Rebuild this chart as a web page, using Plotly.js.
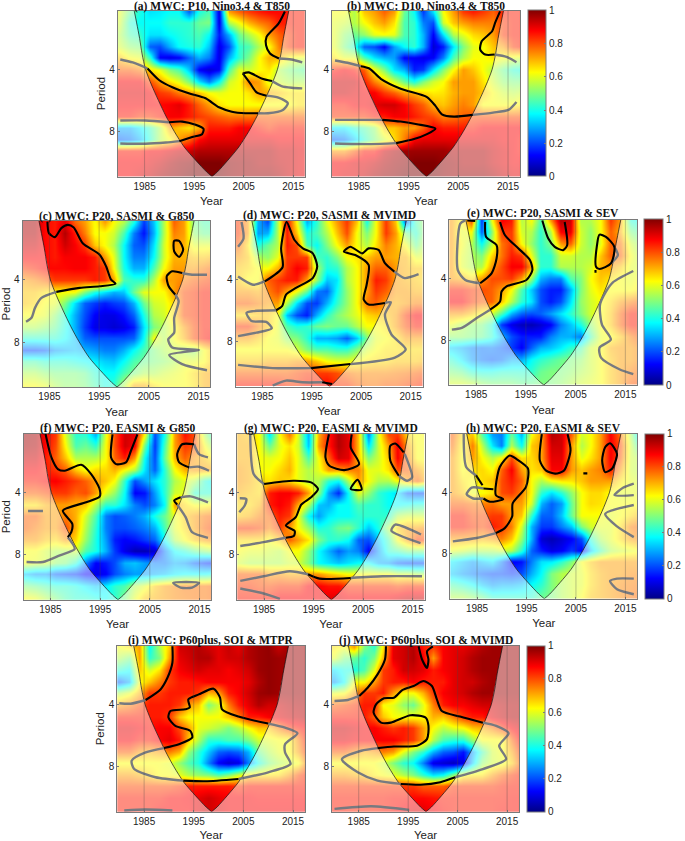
<!DOCTYPE html>
<html><head><meta charset="utf-8">
<script src="https://cdn.plot.ly/plotly-3.0.1.min.js"></script>
<style>html,body{margin:0;padding:0;background:#fff}#c{width:685px;height:841px}</style>
</head><body><div id="c"></div>
<script>
// ---------- shared data ----------
const years=[1980,1982,1984,1986,1988,1990,1992,1994,1996,1998,2000,2002,2004,2006,2008,2010,2012,2014,2016,2018];
const periods=[0.25,1,1.75,2.5,3.25,4,4.75,5.5,6.25,7,7.75,8.5,9.25,10,10.75];
const yearTicks=[1985,1995,2005,2015];
const periodTicks=[4,8];
const cbarTicks=[0,0.2,0.4,0.6,0.8,1];
const cbarLabels=['0','0.2','0.4','0.6','0.8','1'];
const coneLeft=[[1982.9,0.2],[1983.4,1],[1984,2],[1984.5,3],[1985.2,4],[1986.4,5],[1987.8,6],[1989.3,7],[1991,8],[1993,9],[1995.3,9.85],[1997.5,10.6],[1998.6,10.9]];
const coneRight=[[1998.6,10.9],[1999.7,10.6],[2001.8,9.85],[2004,9],[2006,8],[2007.7,7],[2009.2,6],[2010.6,5],[2011.8,4],[2012.5,3],[2013,2],[2013.6,1],[2014.1,0.2]];

// ---------- coherence (percent) ----------
const zA=[
[60,48,40,35,36,38,38,22,40,45,10,72,78,82,85,87,87,85,85,85],
[58,42,38,38,38,42,42,42,48,50,10,55,62,70,75,78,85,85,85,85],
[55,45,42,35,35,38,40,42,45,38,15,30,48,55,62,72,78,82,85,85],
[58,52,50,22,20,30,38,40,42,32,10,20,42,45,55,62,75,82,85,85],
[68,62,60,42,12,10,12,22,30,25,10,30,42,50,62,70,70,62,60,60],
[78,78,75,65,60,50,45,32,12,8,12,45,60,58,62,65,55,50,48,45],
[88,88,88,80,72,65,60,50,35,25,38,58,62,75,72,60,58,55,55,55],
[90,90,90,88,82,80,75,72,68,62,60,62,62,65,72,70,68,65,65,65],
[88,88,88,88,87,88,90,85,78,72,65,62,62,62,62,62,62,62,65,65],
[85,85,82,82,85,88,88,85,82,80,78,76,76,76,78,78,78,78,78,78],
[30,30,36,44,55,72,68,65,70,85,85,85,88,88,85,82,85,85,85,85],
[22,24,30,42,55,62,72,78,87,90,90,90,90,90,90,90,88,88,88,88],
[85,85,85,88,88,90,92,92,95,95,95,95,95,95,95,95,92,92,90,90],
[88,88,88,90,92,95,97,98,100,100,100,98,97,97,95,95,93,92,90,88],
[88,88,90,92,95,97,98,100,100,100,100,98,97,97,97,97,95,92,90,90]];
const zB=[
[62,62,55,68,72,78,72,48,38,18,35,62,72,82,85,82,78,85,85,85],
[60,58,55,62,68,72,65,45,42,25,20,58,68,72,75,75,75,82,85,85],
[60,52,48,52,60,62,60,45,42,30,12,35,55,60,66,68,72,82,85,85],
[60,50,42,22,20,12,28,38,42,30,8,15,35,50,60,62,68,72,82,85],
[65,60,60,45,35,30,28,12,12,10,12,25,45,55,62,62,65,62,60,58],
[85,88,85,78,62,50,35,30,15,18,35,50,62,72,68,62,55,48,42,40],
[92,92,92,85,75,68,58,48,40,50,58,62,72,72,72,65,58,52,50,50],
[92,92,90,88,88,82,78,72,70,66,64,65,70,72,72,68,62,58,56,58],
[85,85,88,88,90,92,92,88,82,78,70,68,72,75,72,62,62,62,62,65],
[82,82,82,82,85,85,88,88,85,82,80,75,76,78,80,80,80,80,80,80],
[36,36,42,46,52,68,68,72,72,78,88,85,85,85,85,88,88,88,88,88],
[22,24,32,42,50,58,66,75,88,90,90,90,90,90,90,90,90,88,88,85],
[72,72,78,85,85,92,95,97,97,97,97,97,95,95,95,95,92,90,88,85],
[88,88,90,90,92,95,97,98,100,100,100,98,97,95,95,95,92,90,88,88],
[88,90,90,92,95,97,98,100,100,100,100,98,97,97,97,97,95,92,90,90]];
const zC=[
[96,96,87,85,90,78,72,62,72,62,55,40,18,32,55,78,72,50,45,45],
[95,95,87,85,95,85,75,62,62,58,45,25,14,30,55,75,72,52,48,48],
[92,92,87,85,92,88,82,68,62,55,38,22,20,35,58,72,70,60,60,60],
[88,88,87,85,88,88,88,85,72,60,38,25,25,38,58,70,70,68,68,70],
[82,84,87,87,87,88,88,85,82,62,40,30,30,45,62,72,72,72,75,78],
[72,74,77,82,82,82,82,85,82,72,45,42,42,55,72,72,75,78,80,82],
[68,68,65,62,62,62,50,40,35,30,32,48,60,62,62,72,80,82,85,85],
[68,66,62,60,50,35,22,18,15,18,20,30,48,58,60,66,80,82,85,85],
[62,62,60,52,42,30,20,12,10,10,14,22,40,55,58,66,80,82,85,85],
[55,55,52,48,40,30,18,10,10,8,10,15,35,50,55,62,72,80,85,85],
[42,42,42,42,38,32,22,20,20,20,20,22,38,62,55,62,70,80,85,88],
[20,20,22,28,30,32,30,28,25,25,30,38,45,50,55,58,55,52,62,70],
[45,45,42,42,42,40,38,36,33,32,38,45,48,50,52,55,60,60,62,70],
[55,55,52,50,50,50,48,42,38,38,45,50,55,55,58,60,62,66,70,72],
[62,62,60,55,52,52,50,45,40,42,55,70,70,65,62,62,62,65,70,72]];
const zD=[
[82,72,30,20,55,88,62,30,42,60,72,82,68,40,62,82,68,22,45,55],
[82,72,28,30,55,85,68,40,45,55,68,80,62,50,62,82,72,50,42,55],
[78,65,40,48,55,85,80,45,38,50,62,72,62,55,65,75,70,62,48,58],
[72,68,55,52,60,82,82,82,45,42,50,62,65,68,72,72,70,70,60,60],
[68,66,62,62,70,82,88,85,55,40,42,55,62,72,78,78,72,70,68,68],
[68,62,62,78,82,85,85,72,52,32,35,55,62,72,85,82,72,70,68,66],
[72,72,70,75,80,72,62,48,25,22,38,52,62,72,82,78,72,72,70,70],
[78,78,75,72,72,55,35,20,18,30,42,52,62,76,78,72,70,72,75,75],
[66,66,68,68,62,32,20,15,30,42,50,55,60,66,68,68,72,82,88,88],
[82,82,75,68,60,45,40,42,48,50,48,48,55,62,62,65,72,80,85,85],
[72,72,68,62,60,52,50,42,30,30,28,22,32,50,60,62,65,72,72,72],
[62,62,62,62,62,62,58,50,45,45,42,42,50,58,62,65,65,66,66,66],
[68,68,68,70,70,70,72,72,68,62,60,60,62,65,66,66,68,68,68,70],
[78,78,78,78,78,78,80,82,82,82,80,76,74,74,74,74,75,76,78,80],
[85,85,85,85,85,82,82,85,85,87,82,82,78,76,76,78,78,80,82,85]];
const zE=[
[72,62,80,18,60,88,85,55,62,45,72,95,92,55,55,62,82,72,42,38],
[72,60,62,22,50,82,82,58,55,42,55,88,90,58,52,62,78,70,50,45],
[72,62,55,38,55,76,82,62,52,42,50,72,78,58,52,60,78,76,58,52],
[72,60,55,50,66,76,85,82,60,42,42,58,58,55,55,68,78,78,62,55],
[72,60,55,55,72,80,88,88,72,42,42,55,55,55,58,70,72,68,60,58],
[72,70,66,72,80,80,82,72,52,30,25,25,45,50,62,68,65,62,60,62],
[85,85,82,80,78,72,62,45,32,20,15,15,30,50,60,65,62,62,62,65],
[88,88,82,78,78,68,55,42,35,20,15,20,35,52,58,62,66,72,75,78],
[72,72,68,62,58,45,30,22,20,22,28,35,42,50,58,62,68,78,85,85],
[60,55,52,50,42,18,10,6,5,8,12,25,32,40,52,62,68,78,85,85],
[52,52,50,48,42,30,20,15,15,15,25,30,30,25,45,60,62,68,75,80],
[33,30,26,24,25,22,18,12,22,30,32,36,42,45,58,62,70,72,72,75],
[42,36,28,24,22,24,30,30,38,42,45,48,50,52,58,62,68,72,72,75],
[50,48,42,40,40,42,42,42,42,48,50,50,52,55,58,62,68,72,75,78],
[58,58,56,52,50,50,50,48,48,50,50,52,55,58,60,62,68,72,78,80]];
const zF=[
[97,96,87,82,58,42,42,30,60,80,92,90,62,20,40,72,86,80,55,38],
[96,95,87,80,62,45,48,42,62,80,92,88,48,18,45,72,82,80,62,50],
[92,92,85,78,68,55,55,55,62,78,85,72,38,20,48,70,78,72,68,62],
[88,88,85,82,78,68,62,66,66,70,62,55,35,22,42,62,70,72,72,72],
[85,85,87,88,85,82,78,72,68,62,42,20,28,35,42,55,60,55,42,35],
[78,78,80,82,82,78,80,72,60,52,38,12,14,28,42,58,60,42,42,42],
[65,65,70,72,72,70,68,55,42,42,35,25,20,25,38,72,66,62,62,65],
[78,78,72,72,75,70,58,45,25,20,22,25,30,40,48,60,68,72,76,78],
[78,75,72,72,80,70,55,42,25,20,20,22,25,30,45,60,66,72,78,82],
[72,72,68,66,72,66,52,40,28,15,12,14,18,22,38,55,62,68,72,75],
[62,62,58,55,55,58,45,40,30,18,10,5,5,8,25,38,42,48,52,55],
[62,60,58,52,50,42,25,12,15,20,30,32,28,25,25,30,28,22,18,15],
[32,28,28,22,20,18,12,10,12,20,25,28,28,30,32,36,38,38,38,40],
[50,48,45,42,42,40,36,32,36,42,45,55,60,68,72,74,76,76,76,78],
[62,60,55,50,45,42,42,40,38,42,50,60,68,70,72,74,75,76,76,78]];
const zG=[
[70,68,62,35,62,76,58,30,70,85,95,90,68,25,60,80,82,66,62,62],
[70,70,62,48,60,65,58,32,72,85,95,90,68,35,58,72,88,72,62,62],
[70,70,62,60,62,68,60,45,62,78,92,90,68,50,58,68,88,75,62,62],
[72,70,62,62,66,70,60,55,60,72,72,75,75,60,60,65,80,78,72,66],
[72,70,66,65,68,66,60,55,55,42,38,55,72,62,55,55,62,72,78,68],
[70,68,66,85,88,88,85,72,52,28,16,38,60,52,42,38,35,22,20,20],
[66,66,70,85,88,85,70,55,32,30,38,38,45,42,42,38,38,40,42,42],
[68,70,75,78,85,82,60,38,28,36,38,38,42,42,42,42,55,58,58,58],
[82,82,80,75,82,72,62,52,40,42,48,50,42,32,40,55,68,72,72,75],
[66,66,66,62,68,78,72,65,50,42,42,38,22,20,32,45,62,72,82,80],
[62,60,60,58,56,62,62,52,38,30,22,28,25,12,28,42,45,50,50,50],
[58,55,55,55,55,58,58,50,38,35,32,35,38,38,30,28,22,20,20,20],
[78,78,78,72,72,70,70,72,72,68,65,62,62,62,62,62,58,58,55,55],
[82,82,80,80,82,82,82,88,88,86,86,82,82,82,82,82,80,82,82,82],
[85,85,85,85,88,88,88,88,88,90,90,88,88,88,88,88,90,92,92,92]];
const zH=[
[78,65,68,45,28,25,48,30,62,72,95,92,78,58,62,72,88,76,55,30],
[76,62,75,55,35,25,55,38,68,72,92,92,72,55,62,72,88,80,58,42],
[72,62,72,62,55,62,80,65,66,72,90,90,72,60,65,72,88,78,58,55],
[72,62,66,66,62,78,88,72,65,68,88,88,72,68,72,75,85,72,58,55],
[72,65,62,66,68,80,85,78,62,55,62,65,65,68,72,72,72,65,60,58],
[72,68,60,62,65,80,82,75,62,42,35,42,52,62,66,66,62,60,60,60],
[78,78,76,75,76,72,72,72,58,30,22,28,48,62,66,65,62,62,62,62],
[85,85,80,80,82,82,72,68,42,22,22,32,48,62,62,62,60,62,66,70],
[85,85,82,80,85,82,75,58,30,18,18,25,32,50,58,60,60,66,75,78],
[72,72,72,70,72,75,68,52,30,8,5,8,12,20,42,55,60,66,72,75],
[60,58,55,55,55,58,55,42,22,15,10,12,18,12,32,45,55,58,60,62],
[36,32,28,32,35,25,12,14,25,35,36,42,50,62,68,72,72,72,72,72],
[32,28,25,22,20,20,18,20,30,38,50,55,58,60,66,70,72,72,74,74],
[45,42,38,32,28,30,30,32,38,42,50,55,58,60,66,70,72,74,75,76],
[55,55,52,48,42,42,42,42,42,48,50,55,58,62,68,70,72,74,76,78]];
const zI=[
[62,65,72,38,55,68,92,93,95,92,90,93,90,95,97,98,93,97,97,97],
[55,50,72,42,50,72,90,92,95,95,90,92,92,95,97,98,97,97,97,97],
[42,38,68,58,65,82,88,90,92,90,90,88,90,92,97,98,97,97,97,97],
[22,30,62,68,75,82,85,85,86,88,88,88,88,90,95,98,97,97,97,97],
[55,60,70,82,82,85,85,85,82,70,72,85,88,92,97,98,97,97,97,97],
[72,75,80,85,85,85,82,72,68,50,58,75,85,90,95,92,92,94,95,95],
[85,85,85,85,85,82,68,62,62,62,62,68,75,85,85,88,90,92,93,95],
[90,90,88,86,88,88,80,72,60,58,55,50,55,62,68,68,75,82,85,88],
[88,88,85,85,88,90,85,68,55,42,42,45,45,50,58,60,62,62,75,88],
[78,78,72,70,72,75,70,52,42,32,22,20,22,30,48,55,60,62,72,85],
[62,62,62,62,62,60,52,45,40,25,12,8,10,25,40,50,55,58,62,80],
[72,72,70,66,62,62,60,55,52,50,45,50,58,65,65,65,66,72,80,85],
[80,80,80,80,80,80,82,85,85,85,85,85,82,85,85,85,85,85,85,85],
[85,85,85,85,85,87,87,88,90,92,90,88,88,88,87,87,87,87,87,87],
[85,85,85,85,87,87,87,87,90,92,90,88,88,88,88,88,88,88,88,88]];
const zJ=[
[65,62,72,50,42,65,90,92,95,85,82,88,90,90,92,95,97,97,97,97],
[60,50,48,42,50,70,90,92,95,88,72,88,90,92,95,97,97,97,97,97],
[35,40,40,45,60,82,85,92,92,90,85,88,90,92,95,97,97,97,97,97],
[28,38,62,62,72,82,85,85,88,85,85,85,90,92,92,95,97,97,97,97],
[60,62,72,82,82,85,72,62,62,70,82,88,90,92,95,97,97,97,97,97],
[78,80,82,85,85,62,60,52,48,60,75,85,88,88,90,92,92,94,95,95],
[85,85,85,85,78,68,62,62,62,62,70,68,75,82,85,85,90,93,95,95],
[92,92,90,88,88,85,82,85,82,72,62,56,60,62,68,70,75,82,88,92],
[90,90,88,88,88,88,88,85,82,72,55,45,42,42,52,62,62,62,78,90],
[78,78,74,70,72,75,72,60,50,42,30,22,20,14,28,45,58,62,72,85],
[62,62,62,62,62,58,50,42,38,25,10,8,6,10,32,52,58,60,68,82],
[72,72,70,68,64,62,60,55,50,42,35,38,50,62,64,65,72,78,82,85],
[82,82,82,82,82,82,82,82,82,78,78,78,82,82,82,82,82,84,85,85],
[85,85,85,85,85,85,86,86,87,87,86,85,85,85,85,85,85,85,86,86],
[85,85,84,84,84,85,86,88,90,90,88,86,85,85,85,85,85,86,86,86]];

// ---------- significance contours (year, period) ----------
const blackA=[[[1985.6,3.94],[1987.9,4.68],[1990.6,5.15],[1993.9,5.54],[1997.3,5.86],[2000,6.44],[2002.6,6.72],[2005.3,6.82],[2007.9,6.82]],
[[1989.9,7.4],[1992.6,7.36],[1995.3,7.57],[1996.9,7.83],[1996.6,8.17],[1994.6,8.36],[1992,8.62]],
[[2004.8,4.26],[2006,4.19],[2008.6,4.58],[2010.7,4.75]],[[2009.6,5.69],[2007.6,5.48],[2006.3,4.9],[2004.8,4.26]],
[[2013.3,0.26],[2012,1.05],[2009.6,1.9],[2009.5,2.44],[2010.3,2.97],[2012.1,3.29]]];
const grayA=[[[1980.1,3.36],[1982.6,3.55],[1985.6,3.94]],[[2012.1,3.29],[2014.6,3.36],[2016.8,3.55]],
[[2010.7,4.75],[2012.6,5.07],[2014.7,5.18],[2016.8,5.22]],
[[2009.6,5.69],[2012,5.82],[2013.9,6.18],[2012.9,6.61],[2009.9,6.82],[2007.9,6.82]],
[[1980.1,7.29],[1985.2,7.29],[1989.9,7.4]],[[1980.1,8.77],[1985.2,8.79],[1989.3,8.71],[1992,8.62]]];
const blackB=[[[1985.4,3.79],[1987.1,3.94],[1989.4,4.6],[1993.4,5.24],[1998.7,5.78],[2000.4,6.35],[2001.7,6.89],[2004.1,7.04],[2007.9,6.93]],
[[1989.7,7.25],[1993.4,7.36],[1996.7,7.53],[2000.4,7.81],[1998.7,8.17],[1996.1,8.49],[1992.5,8.75]],
[[2013.4,0.26],[2012.4,1],[2011.8,1.54],[2009.7,2.18],[2009.4,2.72],[2010.4,3.04],[2012.3,3.04]]];
const grayB=[[[1980.2,3.42],[1982.7,3.57],[1985.4,3.79]],[[2012.3,3.04],[2014.7,3.19],[2016.7,3.53]],
[[2007.9,6.93],[2012,6.78],[2015.1,6.61],[2016.7,6.1]],[[1980.2,7.25],[1985.4,7.25],[1989.7,7.25]],
[[1980.2,8.77],[1987.4,8.81],[1992.5,8.75]]];
const blackC=[[[1984.6,0.24],[1984.9,0.98],[1986.1,1.24],[1987.4,0.66],[1988.7,0.45],[1989.9,0.62],[1991.7,1.63],[1995.1,2.37],[1996.4,3.12],[1997.4,3.98],[1998.3,4.24],[1995.1,4.41],[1991.1,4.51],[1986.4,4.77]],
[[2010.1,1.48],[2011.1,1.48],[2011.9,2.05],[2011.1,2.52],[2010.1,2.16],[2010.1,1.48]],
[[2011.7,3.55],[2009.7,3.44],[2008.6,3.76],[2009,4.41],[2010.3,4.94]]];
const grayC=[[[1980.3,6.7],[1981.4,6.44],[1982.1,5.8],[1983.4,5.16],[1986.4,4.77]],[[2011.7,3.55],[2013.7,3.66],[2016.7,3.66]],
[[2010.3,4.94],[2011,5.37],[2010.1,6.44],[2010.1,7.4],[2008.9,7.83],[2009.7,8.36],[2015.1,8.51],[2009.1,8.83],[2011.7,9.43],[2016.7,9.82]]];
const blackD=[[[1985.5,4.11],[1989.1,3.19],[1988.8,1.97],[1989.9,0.26],[1991.5,1.43],[1993.2,1.97],[1995.2,2.29],[1996.1,3.14],[1995.2,3.89],[1991.8,4.53],[1989.8,4.96],[1989,5.71],[1987.8,5.97]],
[[2011.7,3.47],[2009.8,2.93],[2008.5,2.07],[2006.5,1.97],[2005.2,2.29],[2002.8,1.86],[2001.5,2.18],[2003.8,2.4],[2006.5,3.04],[2006.1,4.32],[2005.5,5.28],[2006.5,5.6],[2009.8,5.5]],
[[1994.8,9.71],[2002.8,9.45]],[[1997.1,10.63],[1999.1,10.74]]];
const grayD=[[[1980.1,1.86],[1981.2,1.33],[1980.8,0.26]],[[1980.1,3.79],[1983.1,4.32],[1985.5,4.11]],[[2011.7,3.47],[2013.8,3.89],[2016.6,3.64]],
[[1987.8,5.97],[1983.1,6.03],[1981.8,6.14],[1982.8,6.67],[1985.8,6.72],[1986.9,7.14],[1983.8,7.42],[1980.1,7.64]],
[[2009.8,5.5],[2011,5.45],[2009.8,6.25],[2011.1,7.53],[2014,8.49],[2011.8,9.03],[2002.8,9.45]],
[[1980.1,9.5],[1987.1,9.71],[1994.8,9.71]],[[1987.1,10.84],[1989.8,10.52],[1993.1,10.63],[1997.1,10.63]]];
const blackE=[[[1983.2,0.26],[1984.8,0.3]],[[1986.8,0.36],[1987,1.33],[1989.1,1.86],[1989.1,2.72],[1988.1,3.68],[1985.8,4.32]],
[[1989.8,0.36],[1990.8,1.22],[1993.5,2.07],[1995.8,2.82],[1996.3,3.47],[1995.1,4.11],[1991.1,4.53],[1990.1,4.86],[1989.8,5.5],[1987.8,6.03]],
[[1998.3,0.26],[1999.5,1.43],[2000.8,1.97],[2002.5,2.18],[2003.3,1.86],[2002.8,0.36]],
[[2009.8,1.18],[2011.1,1.33],[2012.8,1.97],[2012.1,3.04],[2009.8,3.4],[2009.1,3.25],[2009.3,1.86],[2009.8,1.18]],
[[2009,3.47],[2009,3.64]]];
const grayE=[[[1982.8,0.26],[1981.8,0.47],[1981.3,3.47],[1982.8,4.11],[1985.8,4.32]],[[1980.1,7.32],[1982.1,7.21],[1985.1,6.57],[1987.8,6.03]],
[[2012.8,1.97],[2013.5,2.5],[2012.1,3.04]],
[[2016.6,3.53],[2012.5,4.26],[2011.1,4.86],[2009.9,5.71],[2010.3,7],[2012.1,7.96],[2009.8,8.49],[2010.1,9.13],[2013.8,9.88],[2016.6,10.2]]];
const blackF=[[[1984,0.19],[1985.2,1.73],[1986.5,2.48],[1987.9,2.59],[1991.2,2.2],[1993.2,2.8],[1994.9,3.76],[1994.9,4.26],[1992.2,4.62],[1987.5,5.16],[1989.4,6.01],[1989.2,6.55],[1988.5,6.87]],
[[1997.5,0.24],[1997.2,1.73],[1998.2,2.16],[2000.2,2.05],[2001.2,1.3],[2002.5,0.24]],
[[2013.9,0.88],[2011.5,0.88],[2010.5,1.52],[2010.9,2.05],[2012.9,2.37]],
[[2011.2,4.3],[2009.9,4.51],[2010.5,4.77]]];
const grayF=[[[1980.5,5.18],[1983.5,5.18]],[[1980.2,8.47],[1983.5,8.47],[1986.9,8.04],[1989.9,7.62],[1988.5,6.87]],
[[2013.9,0.88],[2014.9,1.52],[2016.7,1.73]],[[2012.9,2.37],[2014.9,2.33],[2016.9,2.59]],[[2011.2,4.3],[2013.2,4.24],[2016.7,4.62]],
[[2010.5,4.77],[2012.2,5.58],[2013.5,6.55],[2016.7,6.91]],[[2009.7,9.82],[2014.9,9.82],[2013.5,10.12],[2011.2,10.12],[2009.7,9.82]]];
const blackG=[[[1985,3.44],[1990.9,3.23],[1994.5,3.34],[1995.9,3.76],[1994.5,4.3],[1992.5,4.77],[1991.4,5.58],[1989.4,6.12],[1991.2,6.48],[1991,6.8],[1989.4,6.91]],
[[1998.1,0.24],[1997.4,1.73],[1998.2,2.27],[2001.2,2.55],[2004.2,2.16],[2002.5,1.09],[2002.7,0.24]],
[[2013.2,1.41],[2011.5,0.83],[2010.5,0.98],[2010.5,1.95],[2012.2,2.91]],
[[2003.9,3.17],[2002.5,3.76],[2004.7,3.81],[2003.9,3.17]],[[1993.9,9.26],[1996.2,9.54],[2002.5,9.5]]];
const grayG=[[[1982.2,0.24],[1982.9,2.8],[1985,3.44]],[[1980,5.26],[1981.1,4.83],[1981.4,4.41],[1980.1,4.36]],[[1980.2,7.44],[1984.9,7.19],[1989.4,6.91]],
[[1980.2,9.69],[1984.9,9.39],[1990.2,9.07],[1993.9,9.26]],[[1980.2,10.18],[1984.9,10.5],[1988.2,10.84]],[[2002.5,9.5],[2008.9,9.39],[2016.9,9.39]],
[[2013.4,1.5],[2014.9,3.02],[2013.9,3.23],[2012.2,2.91]],[[2016.7,6.7],[2011.5,6.06],[2010.7,6.45],[2016.6,7.25]]];
const blackH=[[[1984.8,2.91],[1986.1,3.55]],[[1986.3,3.76],[1988.3,3.81]],
[[1986.3,4.41],[1987.6,4.62],[1990.3,4.45],[1988.8,4.19],[1989.6,2.37],[1991.6,1.63],[1992.9,1.84],[1995.3,2.48],[1994.9,3.66],[1992.2,4.73],[1992.1,5.58],[1990.6,6.33],[1988.8,6.65]],
[[1998.1,0.24],[1997.7,1.95],[1998.9,2.59],[2000.8,2.8],[2002.6,2.59],[2003.9,1.3],[2003.3,0.24]],
[[2011.9,0.83],[2010.9,1.09],[2010.3,1.95],[2010.9,2.7],[2012.3,2.48],[2013.3,1.52],[2011.9,0.83]],
[[2006.5,2.78],[2007.3,2.78]]];
const grayH=[[[1982.3,0.24],[1982.8,2.37],[1984.8,2.91]],[[1986.3,3.76],[1983.9,3.7],[1982.9,4.13],[1984.2,4.41],[1986.3,4.41]],[[1980.1,7.19],[1984.9,6.97],[1988.8,6.65]],
[[2016.7,3.44],[2014.6,3.7],[2012.8,4.19],[2016.7,4.19]],[[2016.7,4.83],[2010.9,5.41],[2013.3,6.22],[2016.7,6.91]],
[[2016.7,9.6],[2013.3,9.6],[2011.9,9.75],[2013.3,10.29],[2016.7,10.61]]];
const blackI=[[[1990.7,0.24],[1990.7,1.3],[1989.7,2.27],[1988.3,3.02],[1985.3,3.7]],
[[1989,6.8],[1992,6.55],[1994.7,6.12],[1994.3,5.69],[1991.3,5.37],[1989.9,4.83],[1990.3,4.41],[1993.3,4.3],[1994.2,4.19],[1993.9,3.66],[1996,3.34],[1999,2.97],[2000.3,3.55],[2000.7,4.3],[2004,4.77],[2010,5.22]],
[[1992.9,8.9],[1997.3,8.94],[2004,8.79]]];
const grayI=[[[1980,3.91],[1982.3,3.94],[1985.3,3.7]],
[[2010,5.22],[2013.4,5.48],[2015.9,5.84],[2013.4,6.55],[2013.4,7.08],[2014.5,7.83],[2010,8.36],[2004,8.79]],
[[1989,6.8],[1985.3,7.08],[1982.5,7.61],[1983,8.15],[1987.3,8.68],[1992.9,8.9]],[[1981,10.82],[1985.3,10.76],[1990.7,10.82]]];
const blackJ=[[[1990.5,0.24],[1990.3,1.09],[1988.8,2.05],[1986.8,2.91],[1985.1,3.44]],
[[1997.1,0.24],[1997.8,1.09],[1998.8,1.63],[1999.1,1.09],[1998.8,0.56],[2000,0.24]],
[[1988.8,6.8],[1992.1,6.7],[1996.8,6.65],[1998.8,6.22],[1999.1,5.37],[1998.5,4.83],[1995.5,4.68],[1991.5,5.16],[1989.5,5.16],[1988,4.51],[1988.5,3.98],[1990.1,3.59],[1992.1,3.55],[1993.8,3.06],[1996.1,2.8],[1998.1,2.48],[1999.8,2.8],[2000.8,3.66],[2001.8,4.41],[2005.5,4.77],[2010.1,5.16]],
[[1993.5,9.11],[1997.5,9.16],[2001.5,9],[2004.5,8.68]]];
const grayJ=[[[1980.1,3.76],[1982.8,3.7],[1985.1,3.44]],
[[2010.1,5.16],[2012.8,5.37],[2015.3,5.84],[2013.4,6.65],[2014.8,7.51],[2010.1,8.15],[2004.5,8.68]],
[[1988.8,6.8],[1985.5,6.97],[1981.6,7.51],[1984.8,8.36],[1988.8,8.9],[1993.5,9.11]],[[1980.1,10.72],[1987.5,10.55],[1995.2,10.78]]];

// ---------- layout (pixels of the page) ----------
const W=685,H=841,XR=[1979.6,2017.4],YR=[10.9,0.2];
const panels=[
{t:'(a) MWC: P10, Nino3.4 & T850',z:zA,k:blackA,g:grayA,b:[118.5,307,10.5,176.5],ty:6.5,per:1},
{t:'(b) MWC: D10, Nino3.4 & T850',z:zB,k:blackB,g:grayB,b:[334,523,10.5,176.5],ty:6.5,cb:[531,18]},
{t:'(c) MWC: P20, SASMI & G850',z:zC,k:blackC,g:grayC,b:[22.7,211.7,221,387],ty:216,per:1},
{t:'(d) MWC: P20, SASMI & MVIMD',z:zD,k:blackD,g:grayD,b:[237,425,221,386.5],ty:215},
{t:'(e) MWC: P20, SASMI & SEV',z:zE,k:blackE,g:grayE,b:[452,641,219.5,385],ty:213.5,cb:[648,19]},
{t:'(f) MWC: P20, EASMI & G850',z:zF,k:blackF,g:grayF,b:[23.7,212.7,433.7,599.7],ty:428.5,per:1},
{t:'(g) MWC: P20, EASMI & MVIMD',z:zG,k:blackG,g:grayG,b:[238.7,427,433.7,599.7],ty:428,},
{t:'(h) MWC: P20, EASMI & SEV',z:zH,k:blackH,g:grayH,b:[453,641,433.5,598.7],ty:428,cb:[649,19]},
{t:'(i) MWC: P60plus, SOI & MTPR',z:zI,k:blackI,g:grayI,b:[118,306.7,645.7,811.7],ty:640.5,per:1},
{t:'(j) MWC: P60plus, SOI & MVIMD',z:zJ,k:blackJ,g:grayJ,b:[334,522,645.7,811.7],ty:640,cb:[530,18]}
];
const jet=[[0,'#000084'],[0.125,'#0000ff'],[0.375,'#00ffff'],[0.625,'#ffff00'],[0.875,'#ff0000'],[1,'#800000']];
const FRAME='#7a7a7a';
const layout={width:W,height:H,margin:{l:0,r:0,t:0,b:0},paper_bgcolor:'#fff',plot_bgcolor:'#fff',showlegend:false,annotations:[],shapes:[],
 font:{family:'"Liberation Sans",Arial,sans-serif',size:10,color:'#222'}};
const traces=[];
panels.forEach((p,i)=>{
  const n=i===0?'':String(i+1),xa='x'+n,ya='y'+n,[l,r,t,b]=p.b;
  layout['xaxis'+n]={domain:[l/W,r/W],anchor:ya,range:XR,tickmode:'array',tickvals:yearTicks,ticks:'inside',ticklen:2,tickcolor:FRAME,
    showgrid:false,zeroline:false,showline:true,linecolor:FRAME,linewidth:1,mirror:true,tickfont:{size:10,color:'#222'},
    title:{text:'Year',font:{size:11.5,color:'#222'},standoff:6}};
  layout['yaxis'+n]={domain:[1-b/H,1-t/H],anchor:xa,range:YR,tickmode:'array',tickvals:periodTicks,ticks:'inside',ticklen:2,tickcolor:FRAME,
    showgrid:false,zeroline:false,showline:true,linecolor:FRAME,linewidth:1,mirror:true,tickfont:{size:10,color:'#222'}};
  if(p.per) layout['yaxis'+n].title={text:'Period',font:{size:11.5,color:'#222'},standoff:1};
  const hm={type:'heatmap',x:years,y:periods,z:p.z.map(r=>r.map(v=>v/100)),xaxis:xa,yaxis:ya,zmin:0,zmax:1,zsmooth:'best',colorscale:jet,showscale:!!p.cb,hoverinfo:'skip'};
  if(p.cb) hm.colorbar={x:p.cb[0]/W,xanchor:'left',xpad:0,y:1-b/H,yanchor:'bottom',ypad:0,len:(b-t)/H,lenmode:'fraction',thickness:p.cb[1],thicknessmode:'pixels',
    outlinecolor:FRAME,outlinewidth:1,tickmode:'array',tickvals:cbarTicks,ticktext:cbarLabels,ticks:'inside',ticklen:2,tickcolor:FRAME,tickfont:{size:10,color:'#222'}};
  traces.push(hm);
  const base={type:'scatter',xaxis:xa,yaxis:ya,hoverinfo:'skip'};
  const leftPoly=[[XR[0],YR[1]],...coneLeft,[XR[0],YR[0]]];
  const rightPoly=[[XR[1],YR[1]],...coneRight.slice().reverse(),[XR[1],YR[0]]];
  [leftPoly,rightPoly].forEach(q=>traces.push({...base,mode:'lines',x:q.map(a=>a[0]),y:q.map(a=>a[1]),fill:'toself',fillcolor:'rgba(255,255,255,0.5)',line:{width:0}}));
  [coneLeft,coneRight].forEach(q=>traces.push({...base,mode:'lines',x:q.map(a=>a[0]),y:q.map(a=>a[1]),line:{color:'#111',width:0.7,shape:'spline',smoothing:0.8}}));
  p.g.forEach(q=>traces.push({...base,mode:'lines',x:q.map(a=>a[0]),y:q.map(a=>a[1]),line:{color:'#777a80',width:2.4,shape:'spline',smoothing:0.7}}));
  p.k.forEach(q=>traces.push({...base,mode:'lines',x:q.map(a=>a[0]),y:q.map(a=>a[1]),line:{color:'#000',width:2.1,shape:'spline',smoothing:0.7}}));
  yearTicks.forEach(v=>layout.shapes.push({type:'line',xref:xa,yref:'paper',x0:v,x1:v,y0:1-b/H,y1:1-t/H,line:{color:'rgba(70,70,70,0.4)',width:0.8},layer:'above'}));
  layout.annotations.push({xref:'paper',yref:'paper',x:(l+r)/2/W,y:1-p.ty/H,xanchor:'center',yanchor:'middle',showarrow:false,text:p.t.replace(/&/g,'&amp;'),
    font:{family:'"Liberation Serif","Times New Roman",serif',size:11.5,color:'#111',weight:700}});
});
Plotly.newPlot('c',traces,layout,{displayModeBar:false,staticPlot:true});
</script></body></html>
